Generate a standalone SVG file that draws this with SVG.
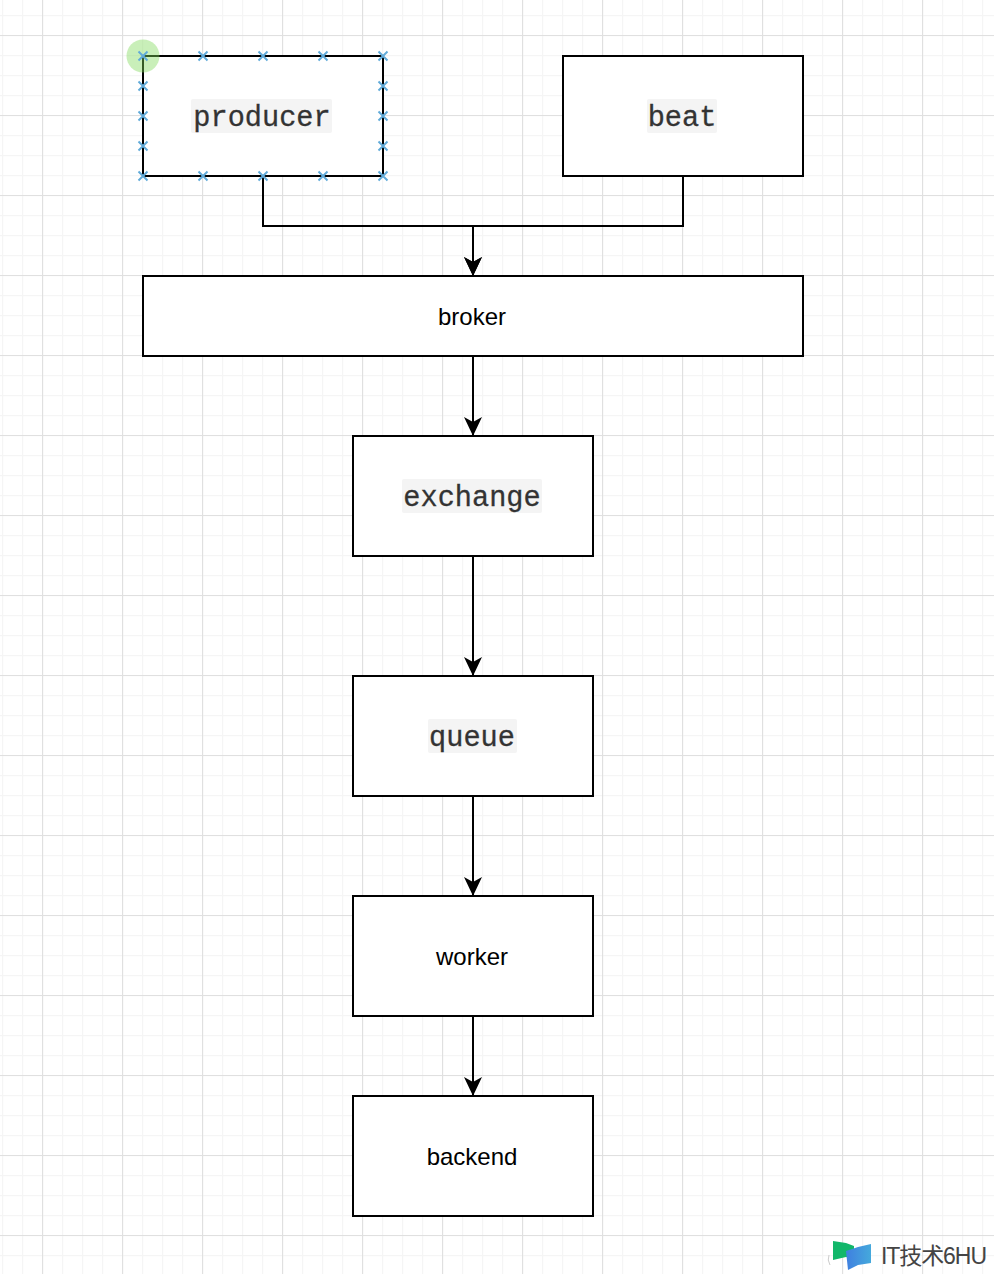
<svg xmlns="http://www.w3.org/2000/svg" width="994" height="1274" viewBox="0 0 994 1274">
<defs>
<pattern id="minor" width="20" height="20" patternUnits="userSpaceOnUse" x="2" y="-5"><path d="M0.5 0V20M0 0.5H20" fill="none" stroke="#f5f5f5" stroke-width="1.4"/></pattern>
<pattern id="major" width="80" height="80" patternUnits="userSpaceOnUse" x="42" y="35"><path d="M0.5 0V80M0 0.5H80" fill="none" stroke="#e0e0e0" stroke-width="1.2"/></pattern>
<marker id="arrow" markerUnits="userSpaceOnUse" markerWidth="22" markerHeight="22" refX="19" refY="10" orient="auto"><path d="M0 1L19 10L0 19L5 10Z" fill="#000"/></marker>
<g id="x"><path d="M-4.5 -4.5L4.5 4.5M4.5 -4.5L-4.5 4.5" stroke="#62abd9" stroke-width="2" fill="none"/></g>
<linearGradient id="book" x1="0" y1="0" x2="1" y2="0"><stop offset="0" stop-color="#3f7fe0"/><stop offset="1" stop-color="#45a9dc"/></linearGradient>
</defs>
<style>
.box{fill:#fff;stroke:#000;stroke-width:2}
.sans{font-family:"Liberation Sans",Arial,sans-serif;font-size:24px;fill:#000;text-anchor:middle}
.mono{font-family:"Liberation Mono","Courier New",monospace;font-size:28.6px;fill:#333;text-anchor:middle;font-weight:400;stroke:#333;stroke-width:.3}
.code{fill:#f4f4f4}
.conn{fill:none;stroke:#000;stroke-width:2}
</style>
<rect width="994" height="1274" fill="#fff"/>
<rect width="994" height="1274" fill="url(#minor)"/>
<rect width="994" height="1274" fill="url(#major)"/>
<g id="connectors">
<path class="conn" d="M263 176V226H473V276" marker-end="url(#arrow)"/>
<path class="conn" d="M683 176V226H473V276" marker-end="url(#arrow)"/>
<path class="conn" d="M473 356V436" marker-end="url(#arrow)"/>
<path class="conn" d="M473 556V676" marker-end="url(#arrow)"/>
<path class="conn" d="M473 796V896" marker-end="url(#arrow)"/>
<path class="conn" d="M473 1016V1096" marker-end="url(#arrow)"/>
</g>
<g id="node-producer">
<rect class="box" x="143" y="56" width="240" height="120"/>
<rect class="code" x="191" y="99" width="141" height="34" rx="2"/>
<text class="mono" x="262" y="126">producer</text>
<circle cx="143" cy="56" r="16.5" fill="#7ed957" fill-opacity=".42"/>
<g id="producer-points">
<use href="#x" x="143" y="56"/><use href="#x" x="203" y="56"/><use href="#x" x="263" y="56"/><use href="#x" x="323" y="56"/><use href="#x" x="383" y="56"/>
<use href="#x" x="143" y="86"/><use href="#x" x="383" y="86"/>
<use href="#x" x="143" y="116"/><use href="#x" x="383" y="116"/>
<use href="#x" x="143" y="146"/><use href="#x" x="383" y="146"/>
<use href="#x" x="143" y="176"/><use href="#x" x="203" y="176"/><use href="#x" x="263" y="176"/><use href="#x" x="323" y="176"/><use href="#x" x="383" y="176"/>
</g>
</g>
<g id="node-beat">
<rect class="box" x="563" y="56" width="240" height="120"/>
<rect class="code" x="647" y="99" width="70" height="34" rx="2"/>
<text class="mono" x="682" y="126">beat</text>
</g>
<g id="node-broker">
<rect class="box" x="143" y="276" width="660" height="80"/>
<text class="sans" x="472" y="325">broker</text>
</g>
<g id="node-exchange">
<rect class="box" x="353" y="436" width="240" height="120"/>
<rect class="code" x="402" y="479" width="140" height="34" rx="2"/>
<text class="mono" x="472" y="506">exchange</text>
</g>
<g id="node-queue">
<rect class="box" x="353" y="676" width="240" height="120"/>
<rect class="code" x="428" y="719" width="89" height="34" rx="2"/>
<text class="mono" x="472" y="746">queue</text>
</g>
<g id="node-worker">
<rect class="box" x="353" y="896" width="240" height="120"/>
<text class="sans" x="472" y="965">worker</text>
</g>
<g id="node-backend">
<rect class="box" x="353" y="1096" width="240" height="120"/>
<text class="sans" x="472" y="1165">backend</text>
</g>
<g id="watermark">
<path d="M829 1255Q827 1260 830 1265" fill="none" stroke="#ccc" stroke-width="1"/>
<path d="M833 1241L846 1243L854 1246V1259L846 1257L833 1260Z" fill="#12b76a"/>
<path d="M846 1251L858 1247L871 1244V1263L858 1265L848 1270Z" fill="url(#book)"/>
<text x="881" y="1264" font-family="'Liberation Sans','Noto Sans CJK SC',sans-serif" font-size="23" fill="#444" textLength="106">IT技术6HU</text>
</g>
</svg>
